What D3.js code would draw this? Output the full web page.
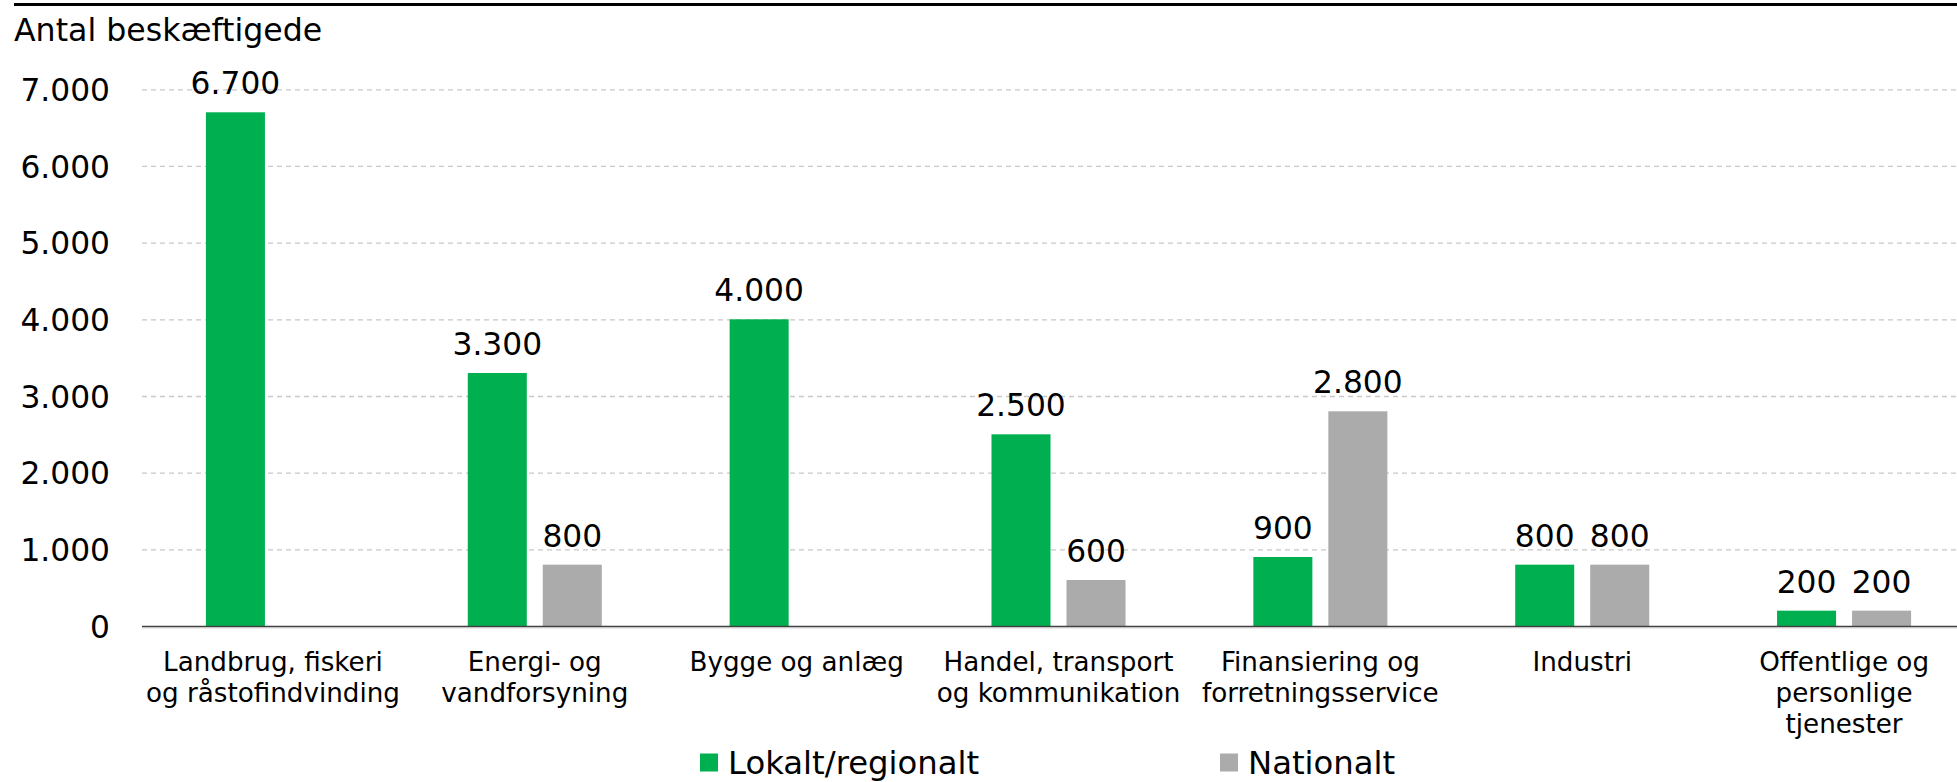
<!DOCTYPE html>
<html>
<head>
<meta charset="utf-8">
<script src="https://cdn.jsdelivr.net/npm/d3@7"></script>
<style>
  html, body { margin: 0; padding: 0; background: #fff; }
  svg { display: block; }
  text { font-family: "DejaVu Sans", Verdana, sans-serif; fill: #000; }
</style>
</head>
<body>
<svg id="chart" width="1957" height="782"></svg>
<script>
const categories = [
  ["Landbrug, fiskeri", "og råstofindvinding"],
  ["Energi- og", "vandforsyning"],
  ["Bygge og anlæg"],
  ["Handel, transport", "og kommunikation"],
  ["Finansiering og", "forretningsservice"],
  ["Industri"],
  ["Offentlige og", "personlige", "tjenester"]
];
const seriesNames = ["Lokalt/regionalt", "Nationalt"];
const lokalt = [6700, 3300, 4000, 2500, 900, 800, 200];
const nationalt = [null, 800, null, 600, 2800, 800, 200];
const yTicks = [0, 1000, 2000, 3000, 4000, 5000, 6000, 7000];
const yTitle = "Antal beskæftigede";
const colors = ["#00B050", "#ABABAB"];

const svg = d3.select("#chart");
const W = 1957, H = 782;
const plotLeft = 142, plotRight = 1975, plotTop = 89.3, plotBottom = 626;

const locale = d3.formatLocale({decimal: ",", thousands: ".", grouping: [3], currency: ["", ""]});
const fmt = locale.format(",d");

const x0 = d3.scaleBand().domain(d3.range(categories.length)).range([plotLeft, plotRight]).padding(0);
const x1 = d3.scaleBand().domain(seriesNames).range([0, x0.bandwidth()])
  .paddingInner(0.213).paddingOuter(0.852);
const y = d3.scaleLinear().domain([0, 7000]).range([plotBottom, plotTop]);

// top rule
svg.append("line").attr("x1", 14).attr("x2", W).attr("y1", 4.5).attr("y2", 4.5)
  .attr("stroke", "#000").attr("stroke-width", 3);

// title
svg.append("text").attr("x", 14).attr("y", 41).style("font-size", "31.6px").text(yTitle);

// gridlines
const grid = svg.append("g").attr("transform", `translate(${plotLeft},0)`)
  .call(d3.axisLeft(y).tickValues(yTicks.filter(d => d > 0)).tickSize(-(plotRight - plotLeft)).tickFormat(""));
grid.select(".domain").remove();
grid.selectAll("line").attr("stroke", "#C8C8C8").attr("stroke-width", 1.3).attr("stroke-dasharray", "5,4");

// y tick labels
const yAxis = svg.append("g").attr("transform", `translate(110,0)`)
  .call(d3.axisLeft(y).tickValues(yTicks).tickSize(0).tickPadding(0).tickFormat(fmt));
yAxis.select(".domain").remove();
yAxis.selectAll("text").style("font-size", "31.3px").style("font-family", '"DejaVu Sans", Verdana, sans-serif')
  .attr("fill", "#000").attr("dy", "0.36em");

// bars
const data = [lokalt, nationalt];
const groups = svg.append("g");
categories.forEach((c, i) => {
  seriesNames.forEach((s, j) => {
    const v = data[j][i];
    if (v == null) return;
    const bx = x0(i) + x1(s);
    groups.append("rect")
      .attr("x", bx).attr("width", x1.bandwidth())
      .attr("y", y(v)).attr("height", y(0) - y(v))
      .attr("fill", colors[j]);
    groups.append("text")
      .attr("x", bx + x1.bandwidth() / 2).attr("y", y(v) - 18)
      .attr("text-anchor", "middle").style("font-size", "31.3px")
      .text(fmt(v));
  });
});

// x axis line
svg.append("line").attr("x1", plotLeft).attr("x2", W).attr("y1", plotBottom + 0.5).attr("y2", plotBottom + 0.5)
  .attr("stroke", "#404040").attr("stroke-width", 1.5);
svg.append("line").attr("x1", plotLeft).attr("x2", W).attr("y1", plotBottom + 1.8).attr("y2", plotBottom + 1.8)
  .attr("stroke", "#C0C0C0").attr("stroke-width", 1);

// category labels
categories.forEach((lines, i) => {
  const t = svg.append("text").attr("text-anchor", "middle").style("font-size", "26.2px")
    .attr("x", x0(i) + x0.bandwidth() / 2).attr("y", 671);
  lines.forEach((ln, k) => {
    t.append("tspan").attr("x", x0(i) + x0.bandwidth() / 2).attr("y", 671 + k * 31).text(ln);
  });
});

// legend
const legendX = [700, 1220];
seriesNames.forEach((s, j) => {
  svg.append("rect").attr("x", legendX[j]).attr("y", 753.5).attr("width", 18).attr("height", 18)
    .attr("fill", colors[j]);
  svg.append("text").attr("x", legendX[j] + 28).attr("y", 774).style("font-size", "32.3px").text(s);
});
</script>
</body>
</html>
